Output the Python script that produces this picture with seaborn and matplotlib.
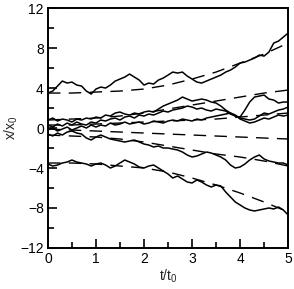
import matplotlib
matplotlib.use("Agg")
import matplotlib.pyplot as plt
from matplotlib.ticker import MultipleLocator
import seaborn as sns
import numpy as np

# time axis, step 0.1
t = np.round(np.arange(0, 5.01, 0.1), 1)
t_mean = [0, 0.5, 1, 1.5, 2, 2.5, 3, 3.5, 4, 4.5, 5]

# noisy trajectories x/x0
traj1 = [3.5, 3.7, 4.2, 4.7, 4.5, 4.6, 4.3, 4.2, 3.7, 3.4, 3.9, 4.1, 4.0, 4.3, 4.7, 4.9, 5.1,
         5.4, 5.1, 4.8, 4.3, 4.5, 4.4, 4.8, 5.0, 5.3, 5.6, 5.5, 5.6, 5.2, 4.9, 4.6, 4.5, 4.7,
         4.9, 5.1, 5.3, 5.6, 5.8, 6.1, 6.5, 6.6, 6.8, 7.0, 7.3, 7.2, 7.6, 8.5, 8.7, 9.1, 9.5]
traj2 = [0.8, 1.0, 0.7, 0.9, 0.8, 0.6, 0.9, 0.8, 1.0, 0.9, 1.1, 1.0, 1.3, 1.2, 1.5, 1.6, 1.4,
         1.3, 1.5, 1.4, 1.6, 1.7, 1.6, 1.9, 2.2, 2.4, 2.6, 2.8, 3.1, 2.9, 2.7, 2.8, 2.9, 2.8,
         2.6, 2.5, 2.2, 1.8, 1.5, 1.2, 1.1, 1.8, 2.6, 3.1, 3.2, 3.3, 2.9, 2.8, 2.5, 2.6, 2.6]
traj3 = [0.3, 0.1, 0.4, 0.2, 0.5, 0.3, 0.6, 0.4, 0.3, 0.6, 0.5, 0.8, 0.7, 0.9, 1.0, 0.8, 1.1,
         1.2, 1.0, 1.3, 1.2, 1.4, 1.3, 1.5, 1.7, 1.6, 1.8, 1.9, 2.0, 2.2, 2.1, 1.9, 2.0, 1.8,
         1.7, 1.9, 1.8, 1.7, 1.4, 1.2, 1.0, 0.9, 0.8, 0.9, 1.2, 1.5, 1.4, 1.6, 1.8, 1.9, 2.1]
traj4 = [-0.2, 0.0, -0.3, -0.1, 0.1, -0.2, 0.0, 0.2, 0.0, 0.3, 0.1, 0.3, 0.2, 0.5, 0.3, 0.4,
         0.6, 0.4, 0.5, 0.6, 0.4, 0.5, 0.7, 0.6, 0.5, 0.7, 0.8, 0.7, 0.9, 0.8, 0.7, 0.9, 0.8,
         1.0, 1.1, 1.2, 1.3, 1.4, 1.5, 1.3, 0.9, 0.7, 0.5, 0.6, 0.8, 1.0, 0.9, 1.1, 1.3, 1.2, 1.3]
traj5 = [-0.6, -0.8, -0.5, -0.7, -0.4, -0.3, -0.5, -0.6, -1.0, -1.2, -0.9, -0.7, -0.9, -1.1,
         -1.2, -1.3, -1.4, -1.3, -1.2, -1.4, -1.6, -1.7, -1.9, -1.8, -2.0, -2.0, -2.1, -2.2,
         -2.4, -2.7, -2.9, -2.8, -2.6, -2.4, -2.5, -2.7, -2.9, -3.2, -3.7, -4.0, -3.9, -3.6,
         -3.2, -2.9, -2.7, -3.1, -3.3, -3.4, -3.5, -3.5, -3.7]
traj6 = [-3.6, -3.8, -3.7, -3.5, -3.4, -3.2, -3.4, -3.5, -3.6, -3.8, -3.6, -3.5, -3.7, -4.0,
         -3.8, -3.5, -3.2, -3.4, -3.6, -3.9, -4.0, -3.8, -3.7, -4.0, -4.3, -4.6, -5.0, -4.8,
         -5.1, -5.4, -5.5, -5.2, -5.4, -5.7, -5.9, -5.7, -5.8, -6.4, -6.9, -7.4, -7.7, -8.0,
         -8.2, -8.3, -8.2, -8.1, -8.0, -8.1, -7.9, -8.2, -8.7]

# dashed mean curves
mean1 = [3.5, 3.5, 3.6, 3.7, 3.9, 4.3, 4.9, 5.6, 6.5, 7.4, 8.5]
mean2 = [0.8, 0.9, 1.0, 1.2, 1.5, 1.9, 2.3, 2.7, 3.1, 3.5, 3.8]
mean3 = [0.3, 0.3, 0.4, 0.5, 0.6, 0.7, 0.8, 0.9, 1.1, 1.3, 1.5]
mean4 = [-0.1, -0.2, -0.3, -0.4, -0.5, -0.6, -0.7, -0.8, -0.9, -1.0, -1.1]
mean5 = [-0.7, -0.8, -0.9, -1.1, -1.4, -1.8, -2.2, -2.6, -2.9, -3.3, -3.8]
mean6 = [-3.5, -3.5, -3.6, -3.8, -4.0, -4.4, -5.0, -5.7, -6.5, -7.4, -8.4]

sns.set_style("ticks")
plt.rcParams["font.family"] = ["Liberation Sans", "DejaVu Sans"]
plt.rcParams["mathtext.default"] = "regular"
plt.rcParams["font.size"] = 10

fig, ax = plt.subplots(figsize=(2.94, 2.89), dpi=100)
fig.subplots_adjust(left=0.163, right=0.980, top=0.972, bottom=0.142)

for tr in [traj1, traj2, traj3, traj4, traj5, traj6]:
    sns.lineplot(x=t, y=tr, color="black", linewidth=1.1, ax=ax)

for m in [mean1, mean2, mean3, mean4, mean5, mean6]:
    sns.lineplot(x=t_mean, y=m, color="black", linewidth=1.0,
                 linestyle=(0, (9, 6)), ax=ax)

ax.set_xlim(0, 5)
ax.set_ylim(-12, 12)
ax.xaxis.set_major_locator(MultipleLocator(1))
ax.xaxis.set_minor_locator(MultipleLocator(0.5))
ax.yaxis.set_major_locator(MultipleLocator(4))
ax.yaxis.set_minor_locator(MultipleLocator(2))
ax.tick_params(which="both", direction="in", width=1.2, colors="black",
               labelsize=10, pad=3)
ax.tick_params(which="major", length=6.5)
ax.tick_params(which="minor", length=4)

for s in ax.spines.values():
    s.set_linewidth(1.4)
    s.set_color("black")

ax.set_xlabel("t/t$_0$", fontsize=10, labelpad=1)
ax.set_ylabel("x/x$_0$", fontsize=10, labelpad=0)

fig.savefig("out.png", dpi=100)
